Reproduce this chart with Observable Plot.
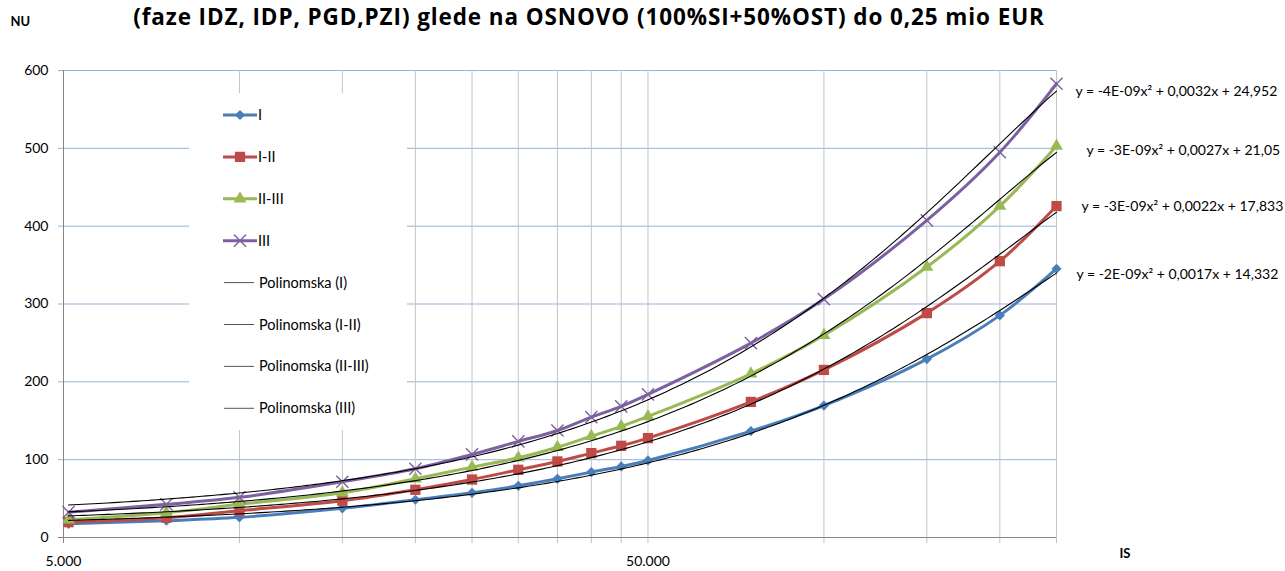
<!DOCTYPE html>
<html>
<head>
<meta charset="utf-8">
<script src="https://cdn.jsdelivr.net/npm/d3@7"></script>
<script src="https://cdn.jsdelivr.net/npm/@observablehq/plot@0.6"></script>
<style>
  html, body { margin: 0; padding: 0; background: #fff; }
  #wrap { position: relative; width: 1285px; height: 571px; overflow: hidden; }
  #legend { position: absolute; left: 0; top: 0; pointer-events: none; }
  .title-text { letter-spacing: 0.9px; }
</style>
</head>
<body>
<div id="wrap"></div>
<script>
// ---- data ----
const titleText = "(faze IDZ, IDP, PGD,PZI) glede na OSNOVO (100%SI+50%OST) do 0,25 mio EUR";
const yAxisTitle = "NU";
const xAxisTitle = "IS";
const seriesNames = ["I", "I-II", "II-III", "III"];
const seriesColors = ["#4A7EBB", "#BE4B48", "#98B954", "#7D60A0"];
const xValues = [5100, 7500, 10000, 15000, 20000, 25000, 30000, 35000, 40000, 45000, 50000, 75000, 100000, 150000, 200000, 250000];
const valuesI     = [17.6, 21.6, 25.9, 37.5, 48.5, 57.4, 66.4, 75.4, 84.0, 91.3, 99.0, 136.7, 169.5, 229.2, 285.4, 345.3];
const valuesI_II  = [19.7, 25.4, 34.4, 47.2, 61.3, 74.5, 87.0, 97.7, 108.4, 117.8, 127.7, 174.2, 215.3, 288.3, 355.0, 425.8];
const valuesII_III= [22.7, 31.8, 42.6, 57.5, 75.4, 90.4, 102.4, 116.0, 130.2, 142.7, 155.5, 210.3, 259.8, 347.5, 425.8, 503.0];
const valuesIII   = [32.5, 42.6, 51.6, 71.6, 88.3, 106.7, 123.4, 137.5, 154.7, 168.4, 183.8, 249.7, 306.3, 407.5, 495.0, 583.0];
const equations = [
  "y = -2E-09x² + 0,0017x + 14,332",
  "y = -3E-09x² + 0,0022x + 17,833",
  "y = -3E-09x² + 0,0027x + 21,05",
  "y = -4E-09x² + 0,0032x + 24,952"
];
const trendNames = ["Polinomska (I)", "Polinomska (I-II)", "Polinomska (II-III)", "Polinomska (III)"];
const xTicks = [5000, 10000, 15000, 20000, 25000, 30000, 35000, 40000, 45000, 50000, 100000, 150000, 200000, 250000];
const xTickLabels = {5000: "5.000", 50000: "50.000"};
const yTicks = [0, 100, 200, 300, 400, 500, 600];

// ---- build table ----
const seriesValues = [valuesI, valuesI_II, valuesII_III, valuesIII];
const rows = [];
seriesNames.forEach((s, k) => xValues.forEach((x, i) => rows.push({series: s, x, y: seriesValues[k][i]})));

// quadratic least-squares trendline (as Excel's polynomial order 2)
function quadFit(xs, ys) {
  const u = xs.map(x => x / 1000);
  const S = [0,0,0,0,0], T = [0,0,0];
  u.forEach((x, i) => {
    for (let p = 0; p < 5; p++) S[p] += x ** p;
    for (let p = 0; p < 3; p++) T[p] += ys[i] * x ** p;
  });
  const A = [[S[0],S[1],S[2],T[0]],[S[1],S[2],S[3],T[1]],[S[2],S[3],S[4],T[2]]];
  for (let c = 0; c < 3; c++) {
    for (let r = c + 1; r < 3; r++) {
      const f = A[r][c] / A[c][c];
      for (let k = c; k < 4; k++) A[r][k] -= f * A[c][k];
    }
  }
  const sol = [0,0,0];
  for (let r = 2; r >= 0; r--) {
    let v = A[r][3];
    for (let k = r + 1; k < 3; k++) v -= A[r][k] * sol[k];
    sol[r] = v / A[r][r];
  }
  return x => sol[0] + sol[1] * (x / 1000) + sol[2] * (x / 1000) ** 2;
}
const trendRows = [];
seriesNames.forEach((s, k) => {
  const f = quadFit(xValues, seriesValues[k]);
  const x0 = xValues[0], x1 = xValues[xValues.length - 1];
  for (let i = 0; i <= 200; i++) {
    const x = x0 * Math.pow(x1 / x0, i / 200);
    trendRows.push({series: s, x, y: f(x)});
  }
});

const symbols = ["diamond2", "square", "triangle", "times"];
const symbolR = [4.6, 5.8, 4.8, 5.6];

const FONT = "Lato, 'Open Sans', sans-serif";
const marks = [
  Plot.ruleY(yTicks.filter(d => d > 0), {y: d => d, stroke: "#95B3D7", strokeWidth: 1, insetLeft: -5}),
  Plot.ruleX(xTicks.filter(d => d > 5000), {x: d => d, stroke: "#C4C4C4", strokeWidth: 1, insetBottom: -6}),
  Plot.ruleX([5000], {x: d => d, stroke: "#868686", strokeWidth: 1}),
  Plot.ruleY([0], {y: d => d, stroke: "#868686", strokeWidth: 1, insetLeft: -5}),
  Plot.ruleX([5000], {x: d => d, stroke: "#868686", strokeWidth: 1, y1: 0, y2: 0, insetBottom: -6}),
  Plot.line(rows, {x: "x", y: "y", z: "series", stroke: "series", strokeWidth: 3, curve: "catmull-rom"})
];
seriesNames.forEach((s, k) => {
  const data = rows.filter(d => d.series === s);
  if (symbols[k] === "times") {
    marks.push(Plot.dot(data, {x: "x", y: "y", symbol: () => "times", r: symbolR[k], stroke: seriesColors[k], strokeWidth: 1.4, fill: "none"}));
  } else {
    marks.push(Plot.dot(data, {x: "x", y: "y", symbol: () => symbols[k], r: symbolR[k], fill: seriesColors[k], stroke: "none"}));
  }
});
marks.push(Plot.line(trendRows, {x: "x", y: "y", z: "series", stroke: "#000", strokeWidth: 1.1, curve: "linear"}));
// equation labels at the end of each series
const eqDx = [20, 25, 30, 19];
const eqDy = [6, 0, 4.5, 8];
seriesNames.forEach((s, k) => {
  const last = {x: xValues[xValues.length - 1], y: seriesValues[k][xValues.length - 1], t: equations[k]};
  marks.push(Plot.text([last], {x: "x", y: "y", text: "t", textAnchor: "start", dx: eqDx[k], dy: eqDy[k], fontSize: 14, fill: "#000"}));
});
// title and axis titles
marks.push(Plot.text([titleText], {text: d => d, frameAnchor: "top", lineAnchor: "middle", dx: 29, dy: -53, fontSize: 22.5, fontWeight: "bold", fontFamily: "'Open Sans', sans-serif", fill: "#000", className: "title-text"}));
marks.push(Plot.text([yAxisTitle], {text: d => d, frameAnchor: "top-left", textAnchor: "start", lineAnchor: "middle", dx: -53, dy: -49, fontSize: 13, fontWeight: "bold", fill: "#000"}));
marks.push(Plot.text([xAxisTitle], {text: d => d, frameAnchor: "bottom-right", textAnchor: "end", lineAnchor: "middle", dx: 74, dy: 16, fontSize: 13, fontWeight: "bold", fill: "#000"}));

const chart = Plot.plot({
  width: 1285,
  height: 571,
  marginLeft: 63,
  marginRight: 229,
  marginTop: 70,
  marginBottom: 34,
  style: {fontFamily: FONT, fontSize: "14px", color: "#000", background: "#fff", overflow: "visible"},
  x: {type: "log", domain: [5000, 250000], ticks: xTicks, tickFormat: d => xTickLabels[d] || "", tickSize: 0, tickPadding: 19, label: null},
  y: {domain: [0, 600], ticks: yTicks, tickFormat: d => String(d), tickSize: 0, tickPadding: 15, label: null},
  color: {domain: seriesNames, range: seriesColors},
  marks
});
document.getElementById("wrap").appendChild(chart);
// letter spacing on the title (class may land on the group)
d3.select(chart).selectAll(".title-text, .title-text text").style("letter-spacing", "0.9px");

// ---- legend (drawn over the plot area, like the reference) ----
const lg = d3.select("#wrap").append("svg").attr("id", "legend").attr("width", 1285).attr("height", 571)
  .style("font-family", FONT).style("font-size", "14.5px");
lg.append("rect").attr("x", 189).attr("y", 93).attr("width", 218).attr("height", 337).attr("fill", "#fff");
const legY0 = 115, legStep = 41.9;
const d3Sym = {diamond2: d3.symbolDiamond2, square: d3.symbolSquare, triangle: d3.symbolTriangle, times: d3.symbolTimes};
seriesNames.forEach((s, k) => {
  const y = legY0 + k * legStep;
  lg.append("line").attr("x1", 223).attr("x2", 257).attr("y1", y).attr("y2", y).attr("stroke", seriesColors[k]).attr("stroke-width", 3);
  const size = Math.PI * symbolR[k] * symbolR[k];
  const p = lg.append("path").attr("d", d3.symbol(d3Sym[symbols[k]], size)()).attr("transform", `translate(240,${y})`);
  if (symbols[k] === "times") p.attr("fill", "none").attr("stroke", seriesColors[k]).attr("stroke-width", 1.4);
  else p.attr("fill", seriesColors[k]);
  lg.append("text").attr("x", 258).attr("y", y).attr("dy", "0.35em").text(s);
});
trendNames.forEach((s, k) => {
  const y = legY0 + (k + 4) * legStep;
  lg.append("line").attr("x1", 224).attr("x2", 254).attr("y1", y).attr("y2", y).attr("stroke", "#555").attr("stroke-width", 1);
  lg.append("text").attr("x", 259).attr("y", y).attr("dy", "0.35em").text(s);
});
</script>
</body>
</html>
